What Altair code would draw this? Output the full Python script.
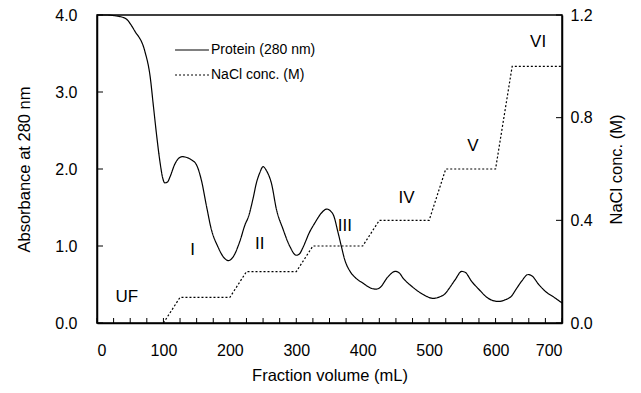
import altair as alt
import pandas as pd

# Protein absorbance (280 nm) trace
prot_x = [0, 15, 27, 42, 57, 72, 80, 85, 90, 95, 99, 102, 106, 110, 117, 123, 128, 135, 142, 150,
          157, 165, 172, 182, 192, 198, 205, 215, 223, 228, 235, 240, 245, 250, 255, 263, 270, 280,
          290, 300, 305, 310, 320, 328, 338, 346, 352, 356, 363, 368, 373, 381, 390, 400, 413, 420,
          426, 438, 449, 455, 461, 474, 491, 506, 516, 524, 531, 539, 549, 554, 564, 574, 589, 604,
          614, 624, 631, 639, 649, 655, 665, 675, 687, 700]
prot_y = [4.0, 4.0, 3.99, 3.96, 3.79, 3.53, 3.20, 2.81, 2.42, 2.08, 1.88, 1.82, 1.83, 1.90, 2.06,
          2.14, 2.16, 2.15, 2.12, 2.05, 1.86, 1.51, 1.22, 0.99, 0.84, 0.81, 0.86, 1.06, 1.28, 1.38,
          1.62, 1.82, 1.95, 2.03, 1.98, 1.80, 1.48, 1.22, 1.00, 0.88, 0.90, 0.98, 1.18, 1.30, 1.43,
          1.48, 1.45, 1.40, 1.17, 0.99, 0.82, 0.67, 0.58, 0.52, 0.45, 0.44, 0.46, 0.60, 0.67, 0.65,
          0.58, 0.475, 0.37, 0.32, 0.34, 0.38, 0.46, 0.56, 0.67, 0.66, 0.54, 0.445, 0.32, 0.28,
          0.30, 0.35, 0.44, 0.54, 0.63, 0.61, 0.50, 0.41, 0.34, 0.26]

# NaCl step gradient
nacl_x = [100, 125, 200, 225, 300, 325, 400, 425, 500, 525, 600, 625, 700]
nacl_y = [0.0, 0.1, 0.1, 0.2, 0.2, 0.3, 0.3, 0.4, 0.4, 0.6, 0.6, 1.0, 1.0]

# Fraction labels (y in absorbance units)
lab_text = ["UF", "I", "II", "III", "IV", "V", "VI"]
lab_x = [45, 144, 245, 373, 466, 566, 664]
lab_y = [0.34, 0.95, 1.03, 1.26, 1.62, 2.30, 3.65]

x_ticks = list(range(0, 701, 25))
x_labels = list(range(0, 701, 100))
abs_ticks = [0.0, 1.0, 2.0, 3.0, 4.0]
nacl_ticks = [0.0, 0.4, 0.8, 1.2]

series_names = ["Protein (280 nm)", "NaCl conc. (M)"]

FONT = "Liberation Sans"
W, H = 465, 308

prot_df = pd.DataFrame({"x": prot_x, "y": prot_y, "s": series_names[0]})
nacl_df = pd.DataFrame({"x": nacl_x, "y": nacl_y, "s": series_names[1]})
lab_df = pd.DataFrame({"x": lab_x, "y": lab_y, "t": lab_text})

xscale = alt.Scale(domain=[0, 700], nice=False)
abs_scale = alt.Scale(domain=[0, 4], nice=False)
nacl_scale = alt.Scale(domain=[0, 1.2], nice=False)
dash = alt.StrokeDash(
    "s:N",
    scale=alt.Scale(domain=series_names, range=[[1, 0], [2, 2]]),
    legend=alt.Legend(
        title=None, orient="none", legendX=77, legendY=17,
        symbolType="stroke", symbolSize=1150, symbolStrokeColor="black",
        symbolStrokeWidth=1.2, labelFont=FONT, labelFontSize=14,
        labelColor="black", labelOffset=1, rowPadding=0, padding=0,
    ),
)

xaxis = alt.Axis(values=x_labels, format="d", ticks=False, labelPadding=19,
                 title="Fraction volume (mL)", titlePadding=9)
X = alt.X("x:Q", scale=xscale, axis=xaxis)

protein = alt.Chart(prot_df).mark_line(color="black", strokeWidth=1.2, interpolate="monotone").encode(
    x=X,
    y=alt.Y("y:Q", scale=abs_scale,
            axis=alt.Axis(values=abs_ticks, format=".1f", ticks=False, labelPadding=20,
                          title="Absorbance at 280 nm", titlePadding=22)),
    strokeDash=dash,
)

labels = alt.Chart(lab_df).mark_text(font=FONT, fontSize=17, color="black").encode(
    x=X,
    y=alt.Y("y:Q", scale=abs_scale, axis=None),
    text="t:N",
)

xtick_df = pd.DataFrame({"x": x_ticks})
xt = alt.Chart(xtick_df).mark_rule(color="black", strokeWidth=1).encode(
    x=X,
    y=alt.value(H), y2=alt.value(H - 5),
)

ltick_df = pd.DataFrame({"y": abs_ticks})
lt = alt.Chart(ltick_df).mark_rule(color="black", strokeWidth=1).encode(
    y=alt.Y("y:Q", scale=abs_scale, axis=None),
    x=alt.value(0), x2=alt.value(6),
)

rtick_df = pd.DataFrame({"y": nacl_ticks})
rt = alt.Chart(rtick_df).mark_rule(color="black", strokeWidth=1).encode(
    y=alt.Y("y:Q", scale=nacl_scale, axis=None),
    x=alt.value(W), x2=alt.value(W - 6),
)

nacl = alt.Chart(nacl_df).mark_line(color="black", strokeWidth=1.2).encode(
    x=X,
    y=alt.Y("y:Q", scale=nacl_scale,
            axis=alt.Axis(values=nacl_ticks, format=".1f", orient="right", ticks=False,
                          labelPadding=8, title="NaCl conc. (M)", titlePadding=16,
                          titleAngle=270, titleBaseline="top")),
    strokeDash=dash,
)

chart = alt.layer(protein, labels, xt, lt, nacl, rt).resolve_scale(
    y="independent"
).properties(
    width=W, height=H,
    autosize=alt.AutoSizeParams(type="none"),
    padding={"left": 89, "top": 7, "right": 71, "bottom": 62},
).configure_view(
    stroke="black", strokeWidth=1.5
).configure_axis(
    labelFont=FONT, labelFontSize=16, labelColor="black",
    titleFont=FONT, titleFontSize=16.5, titleFontWeight="normal", titleColor="black",
    domainColor="black", domainWidth=1.5, grid=False,
)

chart.save("out.html", embed_options={"renderer": "svg", "actions": False})
